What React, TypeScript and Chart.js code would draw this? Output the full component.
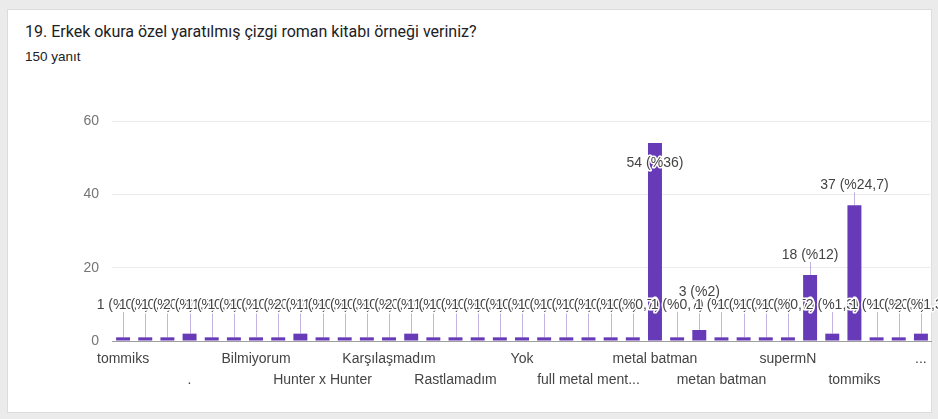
import React, { useEffect, useRef } from 'react';
import { Chart, registerables } from 'chart.js';

Chart.register(...registerables);

const TITLE = '19. Erkek okura özel yaratılmış çizgi roman kitabı örneği veriniz?';
const RESPONSES = '150 yanıt';
const TOTAL = 150;

// Category names (only those readable in the picture; the rest are hidden by the axis)
const categories: string[] = [
  'tommiks', '', '', '.', '', '', 'Bilmiyorum', '', '', 'Hunter x Hunter',
  '', '', 'Karşılaşmadım', '', '', 'Rastlamadım', '', '', 'Yok', '',
  '', 'full metal ment...', '', '', 'metal batman', '', '', 'metan batman', '', '',
  'supermN', '', '', 'tommiks', '', '', '...',
];

const values: number[] = [
  1, 1, 1, 2, 1, 1, 1, 1, 2, 1,
  1, 1, 1, 2, 1, 1, 1, 1, 1, 1,
  1, 1, 1, 1, 54, 1, 3, 1, 1, 1,
  1, 18, 2, 37, 1, 1, 2,
];

const yTicks: number[] = [0, 20, 40, 60];

const FONT = 'Arial, "Liberation Sans", sans-serif';

function pctText(v: number): string {
  const p = Math.round((v / TOTAL) * 1000) / 10;
  return (Number.isInteger(p) ? String(p) : p.toFixed(1)).replace('.', ',');
}

const valueLabels = {
  id: 'valueLabels',
  afterDatasetsDraw(chart: any) {
    const { ctx, chartArea } = chart;
    const meta = chart.getDatasetMeta(0);
    const items = meta.data.map((bar: any, i: number) => {
      const v = values[i];
      const top = bar.y;
      let y = Math.min(top - 20, chartArea.bottom - 36);
      if (v > 2 && top - 20 > chartArea.bottom - 36) y = chartArea.bottom - 49;
      let inside = false;
      if (y - 8 < chartArea.top + 6) {
        y = top + 20;
        inside = true;
      }
      return { x: bar.x, top, y, inside, text: `${v} (%${pctText(v)})` };
    });
    ctx.save();
    ctx.lineWidth = 1;
    ctx.strokeStyle = 'rgba(120,90,190,0.45)';
    items.forEach((it: any) => {
      if (it.inside) return;
      ctx.beginPath();
      ctx.moveTo(Math.round(it.x) + 0.5, it.top);
      ctx.lineTo(Math.round(it.x) + 0.5, it.y + 7);
      ctx.stroke();
    });
    ctx.font = `14px ${FONT}`;
    ctx.textAlign = 'center';
    ctx.textBaseline = 'middle';
    ctx.lineJoin = 'round';
    items.forEach((it: any) => {
      ctx.lineWidth = 3;
      ctx.strokeStyle = '#ffffff';
      ctx.strokeText(it.text, it.x, it.y);
      ctx.fillStyle = '#444444';
      ctx.fillText(it.text, it.x, it.y);
    });
    ctx.restore();
  },
};

export default function App() {
  const canvasRef = useRef<HTMLCanvasElement | null>(null);

  useEffect(() => {
    document.body.style.margin = '0';
    const canvas = canvasRef.current;
    if (!canvas) return;
    const chart = new Chart(canvas, {
      type: 'bar',
      data: {
        labels: categories,
        datasets: [
          {
            data: values,
            backgroundColor: '#673ab7',
            categoryPercentage: 1,
            barPercentage: 0.63,
          },
        ],
      },
      options: {
        responsive: false,
        animation: false,
        layout: { padding: { left: 52, top: 121, right: 6, bottom: 28 } },
        plugins: {
          legend: { display: false },
          tooltip: { enabled: false },
          title: { display: false },
        },
        scales: {
          x: {
            offset: true,
            grid: { display: false, drawTicks: false },
            border: { display: false },
            ticks: {
              autoSkip: false,
              maxRotation: 0,
              minRotation: 0,
              padding: 7.5,
              color: '#444444',
              font: { size: 14, family: FONT, lineHeight: 1.5 },
              callback: (_v: any, i: number) => {
                const name = categories[i];
                if (!name) return '';
                const row = Math.floor(i / 3) % 2;
                return row === 0 ? [name] : ['', name];
              },
            },
            afterFit: (s: any) => {
              s.height = 50;
            },
          },
          y: {
            min: yTicks[0],
            max: yTicks[yTicks.length - 1],
            afterBuildTicks: (s: any) => {
              s.ticks = yTicks.map((v) => ({ value: v }));
            },
            grid: {
              drawTicks: false,
              color: (c: any) => (c.tick && c.tick.value === 0 ? '#9e9e9e' : '#ececec'),
            },
            border: { display: false },
            ticks: {
              padding: 13,
              color: '#757575',
              font: { size: 14, family: FONT },
            },
            afterFit: (s: any) => {
              s.width = 60;
            },
          },
        },
      },
      plugins: [valueLabels],
    });
    return () => chart.destroy();
  }, []);

  return (
    <div style={{ position: 'relative', width: 938, height: 419, background: '#ebebeb', overflow: 'hidden' }}>
      <div
        style={{
          position: 'absolute',
          left: 7,
          top: 9,
          width: 925,
          height: 404,
          background: '#ffffff',
          border: '1px solid #dadce0',
          boxSizing: 'border-box',
        }}
      />
      <div
        style={{
          position: 'absolute',
          left: 25,
          top: 21,
          fontFamily: 'Roboto, Arial, sans-serif',
          fontSize: 16,
          color: '#202124',
          whiteSpace: 'nowrap',
          lineHeight: '22px',
        }}
      >
        {TITLE}
      </div>
      <div
        style={{
          position: 'absolute',
          left: 25,
          top: 48,
          fontFamily: FONT,
          fontSize: 13.5,
          color: '#202124',
          whiteSpace: 'nowrap',
          lineHeight: '18px',
        }}
      >
        {RESPONSES}
      </div>
      <canvas ref={canvasRef} width={938} height={419} style={{ position: 'absolute', left: 0, top: 0 }} />
    </div>
  );
}
